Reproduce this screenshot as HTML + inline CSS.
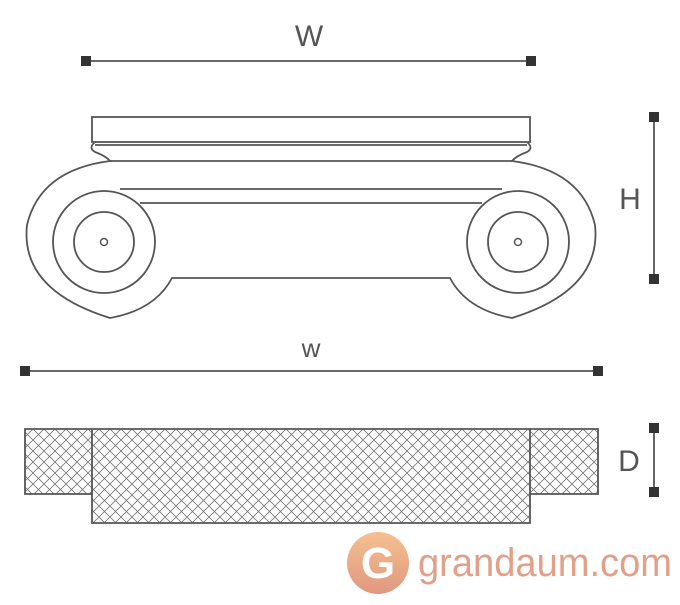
<!DOCTYPE html>
<html><head><style>body{margin:0;background:#fff;width:680px;height:600px;overflow:hidden}</style></head>
<body>
<svg width="680" height="600" xmlns="http://www.w3.org/2000/svg">
<defs>
<pattern id="h" width="11" height="11" patternUnits="userSpaceOnUse">
<path d="M0,0L11,11M11,0L0,11" stroke="#777" stroke-width="0.8"/>
</pattern>
<linearGradient id="g" x1="0" y1="0" x2="0" y2="1"><stop offset="0" stop-color="#f5c090"/><stop offset="1" stop-color="#e09880"/></linearGradient>
</defs>
<g stroke="#555" stroke-width="1.8" fill="none">
<line x1="86" y1="61" x2="531" y2="61"/>
<line x1="654" y1="117" x2="654" y2="279"/>
<line x1="25" y1="371" x2="598" y2="371"/>
<line x1="654" y1="428" x2="654" y2="492"/>
<rect x="92" y="117" width="438" height="25"/>
<line x1="95" y1="145" x2="527" y2="145"/>
<line x1="110" y1="161" x2="512" y2="161"/>
<path d="M95,142 Q88,148 95,152 Q106,156 110,161 Q40,170 27,225 Q20,290 110,318 Q155,310 172,278 L450,278 Q467,310 512,318 Q602,290 595,225 Q582,170 512,161 Q516,156 527,152 Q534,148 527,142"/>
<line x1="120" y1="189" x2="502" y2="189"/>
<line x1="140" y1="203" x2="482" y2="203"/>
<circle cx="104" cy="242" r="51"/><circle cx="104" cy="242" r="30"/><circle cx="104" cy="242" r="3.5" stroke-width="1.5"/>
<circle cx="518" cy="242" r="51"/><circle cx="518" cy="242" r="30"/><circle cx="518" cy="242" r="3.5" stroke-width="1.5"/>
<path d="M25,429H598V494H530V523H92V494H25Z" fill="url(#h)"/>
<line x1="92" y1="429" x2="92" y2="494"/><line x1="530" y1="429" x2="530" y2="494"/>
</g>
<g fill="#333">
<rect x="81" y="56" width="10" height="10"/><rect x="526" y="56" width="10" height="10"/>
<rect x="649" y="112" width="10" height="10"/><rect x="649" y="274" width="10" height="10"/>
<rect x="20" y="366" width="10" height="10"/><rect x="593" y="366" width="10" height="10"/>
<rect x="649" y="423" width="10" height="10"/><rect x="649" y="487" width="10" height="10"/>
</g>
<g font-family="Liberation Sans, sans-serif" fill="#555" font-size="30">
<text x="309" y="46" text-anchor="middle">W</text>
<text x="630" y="209" text-anchor="middle">H</text>
<text x="311" y="357" text-anchor="middle" font-size="26">w</text>
<text x="629" y="471" text-anchor="middle">D</text>
</g>
<circle cx="378" cy="563" r="31" fill="url(#g)"/>
<text x="378" y="578" text-anchor="middle" font-family="Liberation Sans, sans-serif" font-weight="bold" font-size="44" fill="#fff">G</text>
<text x="418" y="576" font-family="Liberation Sans, sans-serif" font-size="40" fill="#e3a088" textLength="254" lengthAdjust="spacingAndGlyphs">grandaum.com</text>
</svg>
</body></html>
